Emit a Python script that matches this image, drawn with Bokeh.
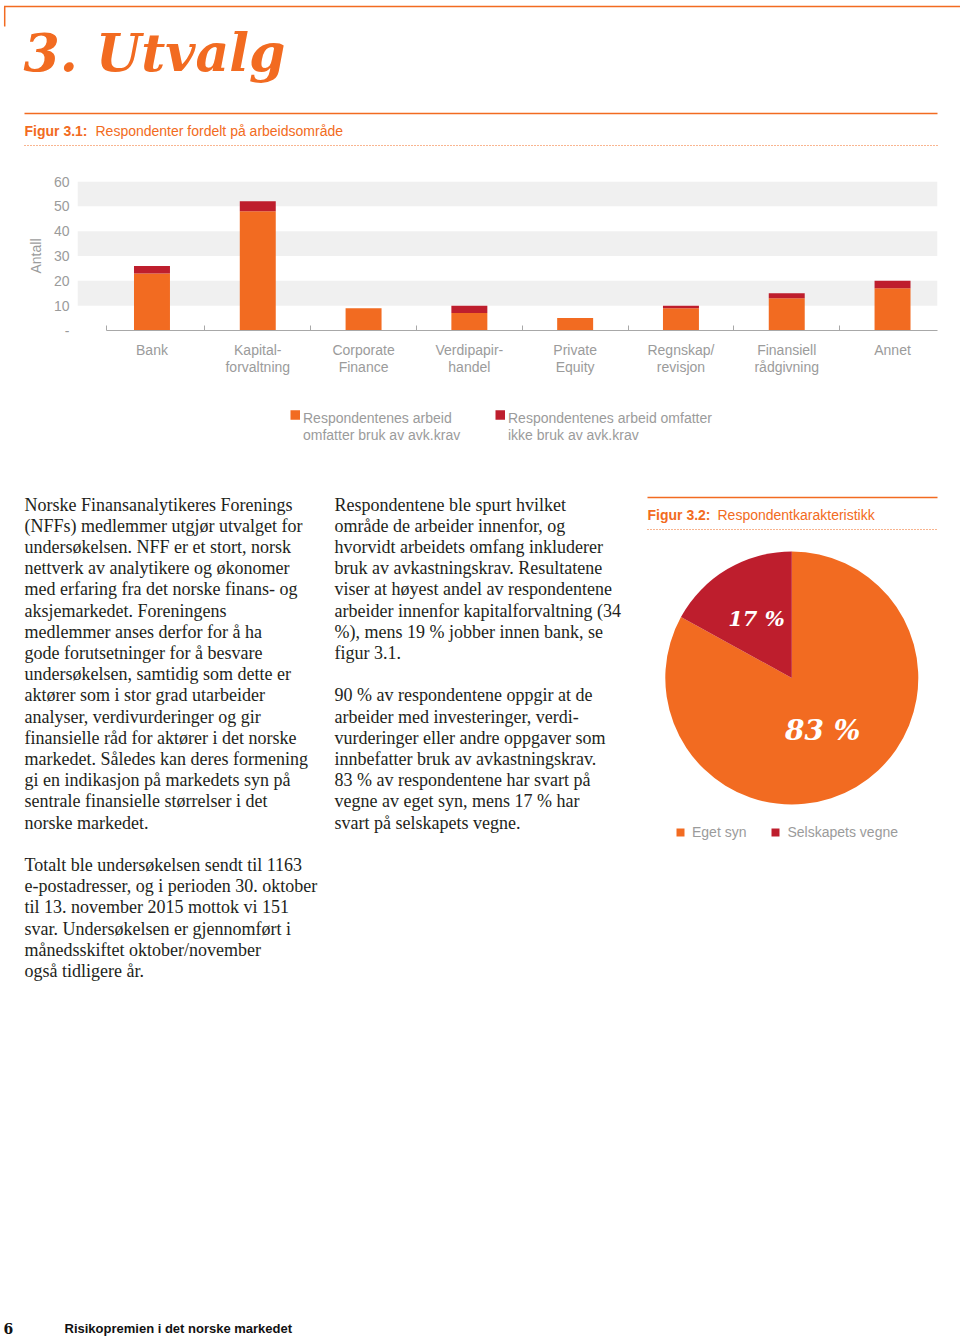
import math
from bokeh.plotting import figure
from bokeh.layouts import column
from bokeh.models import Range1d, FixedTicker, Legend, LegendItem, ColumnDataSource
from bokeh.core.properties import value
from bokeh.embed import file_html
from bokeh.resources import INLINE

# ---------------- data ----------------
categories = ["Bank", "Kapital-\nforvaltning", "Corporate\nFinance", "Verdipapir-\nhandel",
              "Private\nEquity", "Regnskap/\nrevisjon", "Finansiell\nrådgivning", "Annet"]
med_avkastningskrav = [23, 48, 9, 7, 5, 9, 13, 17]
uten_avkastningskrav = [3, 4, 0, 3, 0, 1, 2, 3]
series_labels = [["Respondentenes arbeid", "omfatter bruk av avk.krav"],
                 ["Respondentenes arbeid omfatter", "ikke bruk av avk.krav"]]
y_ticks = [0, 10, 20, 30, 40, 50, 60]
y_tick_labels = ["-", "10", "20", "30", "40", "50", "60"]

pie_labels = ["Eget syn", "Selskapets vegne"]
pie_values = [83, 17]

# ---------------- text ----------------
col1_p1 = [
    "Norske Finansanalytikeres Forenings",
    "(NFFs) medlemmer utgjør utvalget for",
    "undersøkelsen. NFF er et stort, norsk",
    "nettverk av analytikere og økonomer",
    "med erfaring fra det norske finans- og",
    "aksjemarkedet. Foreningens",
    "medlemmer anses derfor for å ha",
    "gode forutsetninger for å besvare",
    "undersøkelsen, samtidig som dette er",
    "aktører som i stor grad utarbeider",
    "analyser, verdivurderinger og gir",
    "finansielle råd for aktører i det norske",
    "markedet. Således kan deres formening",
    "gi en indikasjon på markedets syn på",
    "sentrale finansielle størrelser i det",
    "norske markedet.",
]
col1_p2 = [
    "Totalt ble undersøkelsen sendt til 1163",
    "e-postadresser, og i perioden 30. oktober",
    "til 13. november 2015 mottok vi 151",
    "svar. Undersøkelsen er gjennomført i",
    "månedsskiftet oktober/november",
    "også tidligere år.",
]
col2_p1 = [
    "Respondentene ble spurt hvilket",
    "område de arbeider innenfor, og",
    "hvorvidt arbeidets omfang inkluderer",
    "bruk av avkastningskrav. Resultatene",
    "viser at høyest andel av respondentene",
    "arbeider innenfor kapitalforvaltning (34",
    "%), mens 19 % jobber innen bank, se",
    "figur 3.1.",
]
col2_p2 = [
    "90 % av respondentene oppgir at de",
    "arbeider med investeringer, verdi-",
    "vurderinger eller andre oppgaver som",
    "innbefatter bruk av avkastningskrav.",
    "83 % av respondentene har svart på",
    "vegne av eget syn, mens 17 % har",
    "svart på selskapets vegne.",
]

ORANGE = "#F26B21"
RED = "#BE1E2D"
GREY = "#9B9B9B"
BAND = "#F0F0F0"
TEXT = "#231F20"
SANS = "Liberation Sans"
SERIF = "Liberation Serif"
DISPLAY = "DejaVu Serif"

W = 944


def page_fig(y_top, y_bot, width=W):
    p = figure(width=width, height=y_bot - y_top, x_range=Range1d(0, width),
               y_range=Range1d(-y_bot, -y_top), output_backend="svg",
               toolbar_location=None, min_border=0, frame_align=False,
               x_axis_location=None, y_axis_location=None)
    p.grid.visible = False
    p.outline_line_color = None
    p.background_fill_color = "white"
    p.border_fill_color = "white"
    return p


def txt(p, x, y, s, size, font=SANS, style="normal", color=TEXT, align="left", baseline="middle"):
    p.text(x=[x], y=[-y], text=[s], text_font=value(font), text_font_size=f"{size}px",
           text_font_style=style, text_color=color, text_align=align, text_baseline=baseline)


def hline(p, x0, x1, y, width=1.5, dash="solid"):
    p.line([x0, x1], [-y, -y], line_color=ORANGE, line_width=width, line_dash=dash)


# ================= header =================
hdr = page_fig(0, 165, width=960)
hline(hdr, 3.5, 960, 6)
hdr.line([4.2, 4.2], [-6, -26], line_color=ORANGE, line_width=1.5)
txt(hdr, 23, 52, "3. Utvalg", 52, font=DISPLAY, style="bold italic", color=ORANGE)
hline(hdr, 24, 937, 113)
txt(hdr, 24, 130, "Figur 3.1:", 14, style="bold", color=ORANGE)
txt(hdr, 95, 130, "Respondenter fordelt på arbeidsområde", 14, color=ORANGE)
hline(hdr, 24, 937, 145, width=1.2, dash="1 2")

# ================= bar chart =================
n = len(categories)
xs = list(range(n))
src = ColumnDataSource(dict(x=xs, med=med_avkastningskrav, uten=uten_avkastningskrav))
bar = figure(frame_width=860, frame_height=149, x_range=Range1d(-0.704, 7.425),
             y_range=Range1d(0, 60), output_backend="svg", toolbar_location=None,
             frame_align=False,
             min_border_left=77, min_border_right=7, min_border_top=16, min_border_bottom=65)
bar.outline_line_color = None
bar.background_fill_color = "white"
bar.border_fill_color = "white"
rs = bar.vbar_stack(["med", "uten"], x="x", width=0.34, color=[ORANGE, RED], source=src,
                    line_width=0)

bar.xaxis.ticker = FixedTicker(ticks=xs, minor_ticks=[-0.43] + [i + 0.5 for i in range(n - 1)])
bar.xaxis.major_label_overrides = {i: c for i, c in enumerate(categories)}
bar.xaxis.bounds = (-0.43, 7.425)
bar.xaxis.axis_line_color = "#A8A8A8"
bar.xaxis.axis_line_width = 1.2
bar.xaxis.major_tick_line_color = None
bar.xaxis.major_tick_in = 0
bar.xaxis.major_tick_out = 0
bar.xaxis.minor_tick_line_color = "#A8A8A8"
bar.xaxis.minor_tick_in = 5
bar.xaxis.minor_tick_out = 0
bar.xaxis.major_label_text_font = SANS
bar.xaxis.major_label_text_font_size = "14px"
bar.xaxis.major_label_text_color = GREY
bar.xaxis.major_label_text_line_height = 1.12
bar.xaxis.major_label_standoff = 11

bar.yaxis.ticker = FixedTicker(ticks=y_ticks)
bar.yaxis.major_label_overrides = dict(zip(y_ticks, y_tick_labels))
bar.yaxis.axis_line_color = None
bar.yaxis.major_tick_line_color = None
bar.yaxis.major_tick_in = 0
bar.yaxis.major_tick_out = 0
bar.yaxis.minor_tick_line_color = None
bar.yaxis.major_label_text_font = SANS
bar.yaxis.major_label_text_font_size = "14px"
bar.yaxis.major_label_text_color = GREY
bar.yaxis.major_label_standoff = 8
bar.yaxis.axis_label = "Antall"
bar.yaxis.axis_label_text_font = SANS
bar.yaxis.axis_label_text_font_style = "normal"
bar.yaxis.axis_label_text_font_size = "14px"
bar.yaxis.axis_label_text_color = GREY
bar.yaxis.axis_label_standoff = 7

bar.xgrid.visible = False
bar.ygrid.ticker = FixedTicker(ticks=y_ticks)
bar.ygrid.grid_line_color = None
bar.ygrid.band_fill_color = BAND
bar.ygrid.band_fill_alpha = 1

# ================= lower page =================
low = page_fig(395, 1337)

# legend of figure 3.1
leg_x = [290, 495]
low.scatter(x=[x + 4.75 for x in leg_x], y=[-414.5, -414.5], marker="square", size=9.5,
            color=[ORANGE, RED], line_width=0)
for k in range(2):
    for j, line in enumerate(series_labels[k]):
        txt(low, leg_x[k] + 12.5, 417 + 17 * j, line, 14, color=GREY)

LH = 21.2


def paragraph(p, x, y_first, lines):
    ys = [-(y_first + LH * i) for i in range(len(lines))]
    p.text(x=[x] * len(lines), y=ys, text=lines, text_font=value(SERIF), text_font_size="18px",
           text_color=TEXT, text_align="left", text_baseline="middle")


paragraph(low, 24, 504, col1_p1)
paragraph(low, 24, 504 + LH * (len(col1_p1) + 1), col1_p2)
paragraph(low, 334, 504, col2_p1)
paragraph(low, 334, 504 + LH * (len(col2_p1) + 1), col2_p2)

# figure 3.2 caption
hline(low, 647, 937, 497)
txt(low, 647, 514, "Figur 3.2:", 14, style="bold", color=ORANGE)
txt(low, 717, 514, "Respondentkarakteristikk", 14, color=ORANGE)
hline(low, 647, 937, 529, width=1.2, dash="1 2")

# pie
cx, cy, R = 791.3, -677.5, 126.5
total = sum(pie_values)
starts, ends = [0.0] * 2, [0.0] * 2
a = math.pi / 2
for k in [1, 0]:
    starts[k] = a
    a += 2 * math.pi * pie_values[k] / total
    ends[k] = a
pie_src = ColumnDataSource(dict(x=[cx] * 2, y=[cy] * 2, start=starts, end=ends,
                                color=[ORANGE, RED], label=pie_labels))
w = low.wedge(x="x", y="y", radius=R, start_angle="start", end_angle="end",
              fill_color="color", line_color=None, source=pie_src)
label_frac = [0.48, 0.55]
label_size = [28, 21]
for k in range(2):
    mid = (starts[k] + ends[k]) / 2
    lx = cx + label_frac[k] * R * math.cos(mid)
    ly = cy + label_frac[k] * R * math.sin(mid)
    low.text(x=[lx], y=[ly], text=[f"{pie_values[k]} %"], text_font=value(DISPLAY),
             text_font_size=f"{label_size[k]}px", text_font_style="bold italic",
             text_color="white", text_align="center", text_baseline="middle")

pleg = Legend(items=[LegendItem(label=pie_labels[k], renderers=[w], index=k) for k in range(2)],
              orientation="horizontal", location=(675, 1337 - 840))
pleg.label_text_font = SANS
pleg.label_text_font_size = "14px"
pleg.label_text_color = GREY
pleg.glyph_width = 10
pleg.glyph_height = 10
pleg.label_standoff = 7
pleg.spacing = 24
pleg.padding = 0
pleg.margin = 0
pleg.border_line_color = None
pleg.background_fill_alpha = 0
low.add_layout(pleg)

# footer
txt(low, 3, 1328, "6", 14, font=DISPLAY, style="bold", color="#111111")
txt(low, 64, 1328, "Risikopremien i det norske markedet", 13, style="bold", color="#111111")

page = column(hdr, bar, low, spacing=0)
open("out.html", "w").write(file_html(page, INLINE))
